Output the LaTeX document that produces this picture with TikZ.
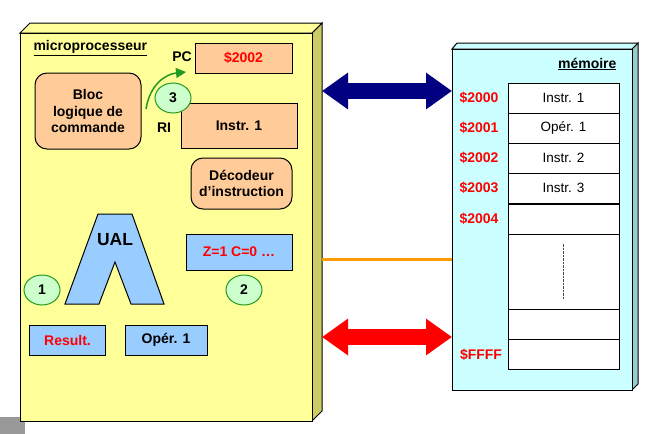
\documentclass[tikz,border=0pt]{standalone}
\usepackage{fontspec}
\setmainfont{Liberation Sans}
\usetikzlibrary{arrows.meta,shapes.geometric}
\definecolor{cpuyellow}{HTML}{FFFF99}
\definecolor{cpuside}{HTML}{CCCC66}
\definecolor{regorange}{HTML}{FFCC99}
\definecolor{regblue}{HTML}{99CCFF}
\definecolor{stepgreen}{HTML}{CCFFCC}
\definecolor{stepline}{HTML}{229922}
\definecolor{memcyan}{HTML}{CCFFFF}
\definecolor{memside}{HTML}{99CCCC}
\definecolor{busnavy}{HTML}{000080}
\definecolor{busorange}{HTML}{FF9900}

\begin{document}
\begin{tikzpicture}[x=1pt, y=-1pt,
  face/.style={draw, line width=1pt},
  lbl/.style={font=\fontsize{14}{16.5}\selectfont\bfseries},
  reg/.style={draw, line width=1pt, minimum width=#1, minimum height=30, lbl},
  rbox/.style={draw, line width=1pt, rounded corners=12, fill=regorange, align=center, lbl},
  stepnum/.style={ellipse, draw=stepline, line width=1pt, fill=stepgreen, minimum width=36, minimum height=30, inner sep=0, lbl},
  cell/.style={draw, line width=1pt, fill=white, minimum width=111, minimum height=30, inner sep=0, font=\fontsize{13.5}{16.5}\selectfont},
  addr/.style={text=red, lbl},
  bus/.style={line width=16pt, {Triangle[length=26pt, width=35pt]}-{Triangle[length=26pt, width=35pt]}}]
\useasboundingbox (0,0) rectangle (654,434);
\fill [black!40] (0,417) rectangle (25,434);

% microprocesseur
\draw [face, fill=cpuside] (312,33) -- (322,23) -- (322,411) -- (312,421) -- cycle;
\draw [face, fill=cpuyellow] (20,33) -- (30,23) -- (322,23) -- (312,33) -- cycle;
\node [face, fill=cpuyellow, anchor=north west, minimum width=292, minimum height=388, inner sep=0] (cpu) at (20,33) {};
\node [lbl, anchor=west] (cputitle) at (30,48) {\underline{microprocesseur}};

\node [reg=97, fill=regorange, text=red] (pc) at (243.5,58) {\$2002};
\node [lbl] (pclabel) at (182,57) {PC};
\node [rbox, minimum width=106, minimum height=76] (bloc) at (88,111) {Bloc\\logique de\\commande};
\node [reg=116, fill=regorange, minimum height=45] (ri) at (239,125.5) {Instr. 1};
\node [lbl] (rilabel) at (164,128) {RI};
\node [rbox, minimum width=101, minimum height=51] (dec) at (241.5,183.5) {Décodeur\\d’instruction};

\coordinate (arcstart) at (146,109);
\coordinate (arcend) at (186,72);
\draw [stepline, line width=1.5pt, -{Triangle[length=10pt, width=10pt]}] (arcstart) .. controls (150,84) and (166,74) .. (arcend);
\node [stepnum] (step3) at (173,98) {3};

\draw [face, fill=regblue] (98,214) -- (132,214) -- (164,304) -- (131,304) -- (115,262) -- (99,304) -- (65,304) -- cycle;
\node [lbl, font=\fontsize{17.5}{20}\selectfont\bfseries] (ual) at (115,240) {UAL};
\node [reg=106, fill=regblue, minimum height=36, text=red] (flags) at (239,252) {Z=1 C=0 \dots};
\node [stepnum] (step1) at (42,290) {1};
\node [stepnum] (step2) at (244,290) {2};
\node [reg=76, fill=regblue, text=red] (result) at (67.5,340) {Result.};
\node [reg=82, fill=regblue] (oper) at (166,340) {Opér. 1};

% memoire
\draw [face, fill=memside] (632,49) -- (638,43) -- (638,384) -- (632,390) -- cycle;
\draw [face, fill=memcyan] (452,49) -- (457,43) -- (638,43) -- (632,49) -- cycle;
\node [face, fill=memcyan, anchor=north west, minimum width=180, minimum height=341, inner sep=0] (mem) at (452,49) {};
\node [lbl, anchor=east] (memtitle) at (620,64) {\underline{mémoire}};

\foreach \y/\txt/\adr [count=\i] in {98/Instr. 1/2000, 128/Opér. 1/2001, 158/Instr. 2/2002, 188/Instr. 3/2003, 219/{}/2004} {
  \node [cell] (cell\i) at (563.5,\y) {\txt};
  \node [addr] (adr\i) at (479,\y) {\$\adr};
}
\node [cell, minimum height=75] (bigcell) at (563.5,271.5) {};
\node [cell] (cell7) at (563.5,324) {};
\node [cell] (cell8) at (563.5,354.5) {};
\node [addr] (adrF) at (481,354.5) {\$FFFF};
\draw [densely dotted, black!70] ([yshift=-10pt]bigcell.north) -- ([yshift=11pt]bigcell.south);

% bus
\coordinate (cpuA) at (322,91);
\coordinate (memA) at (452,91);
\coordinate (cpuC) at (322,259);
\coordinate (memC) at (452,259);
\coordinate (cpuD) at (322,337);
\coordinate (memD) at (452,337);
\draw [bus, busnavy] (cpuA) -- (memA);
\draw [busorange, line width=3pt] (cpuC) -- (memC);
\draw [bus, red] (cpuD) -- (memD);
\end{tikzpicture}
\end{document}
